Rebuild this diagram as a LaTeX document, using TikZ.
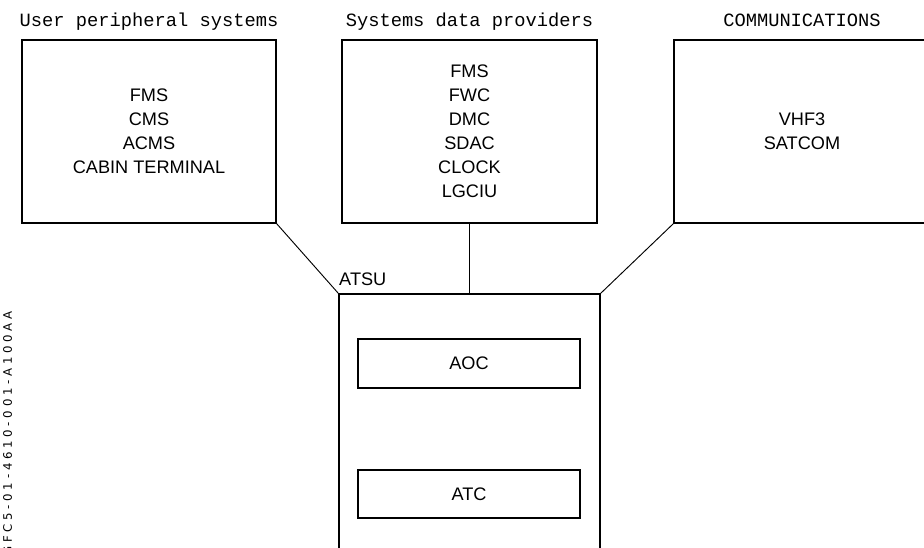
\documentclass[tikz,border=0pt]{standalone}
\usepackage{fontspec}
\setmainfont{Liberation Sans}
\newfontfamily\headfont{Liberation Mono}
\newfontfamily\refcodefont[LetterSpace=32]{DejaVu Sans}

\begin{document}
\begin{tikzpicture}[x=0.03cm, y=-0.03cm,
  every node/.style={font=\fontsize{15.5pt}{20.5pt}\selectfont, align=center},
  sysbox/.style={draw, line width=1.1pt, minimum height=5.49cm, inner sep=0pt},
  subbox/.style={draw, line width=1.1pt, minimum width=6.66cm, inner sep=0pt},
  headtitle/.style={font=\headfont\fontsize{16pt}{18pt}\selectfont, anchor=base, inner sep=0pt},
  link/.style={line width=0.8pt}]
\clip (0,0) rectangle (924,547);
\useasboundingbox (0,0) rectangle (924,547);

% Group titles
\node[headtitle] (usertitle) at (149,26) {User peripheral systems};
\node[headtitle] (provtitle) at (469.5,26) {Systems data providers};
\node[headtitle] (commtitle) at (802,26) {COMMUNICATIONS};

% Top row of system boxes
\node[sysbox, minimum width=7.62cm] (user) at (149,131.5) {FMS\\CMS\\ACMS\\CABIN TERMINAL};
\node[sysbox, minimum width=7.65cm] (prov) at (469.5,131.5) {FMS\\FWC\\DMC\\SDAC\\CLOCK\\LGCIU};
\node[sysbox, minimum width=7.68cm] (comm) at (802,131.5) {VHF3\\SATCOM};

% ATSU with its two parts
\node[draw, line width=1.1pt, minimum width=7.83cm, minimum height=7.98cm] (atsu) at (469.5,427) {};
\node[anchor=base west, inner sep=0pt] (atsulabel) at (339,285) {ATSU};
\node[subbox, minimum height=1.47cm] (aoc) at (469,363.5) {AOC};
\node[subbox, minimum height=1.44cm] (atc) at (469,494) {ATC};

% Links
\draw[link] (user.south east) -- (atsu.north west);
\draw[link] (prov.south) -- (atsu.north);
\draw[link] (comm.south west) -- (atsu.north east);

% Drawing reference
\node[rotate=90, anchor=east, inner sep=0pt, font=\refcodefont\fontsize{10pt}{12pt}\selectfont] (refcode) at (7.5,311) {GFC5-01-4610-001-A100AA};
\end{tikzpicture}
\end{document}
